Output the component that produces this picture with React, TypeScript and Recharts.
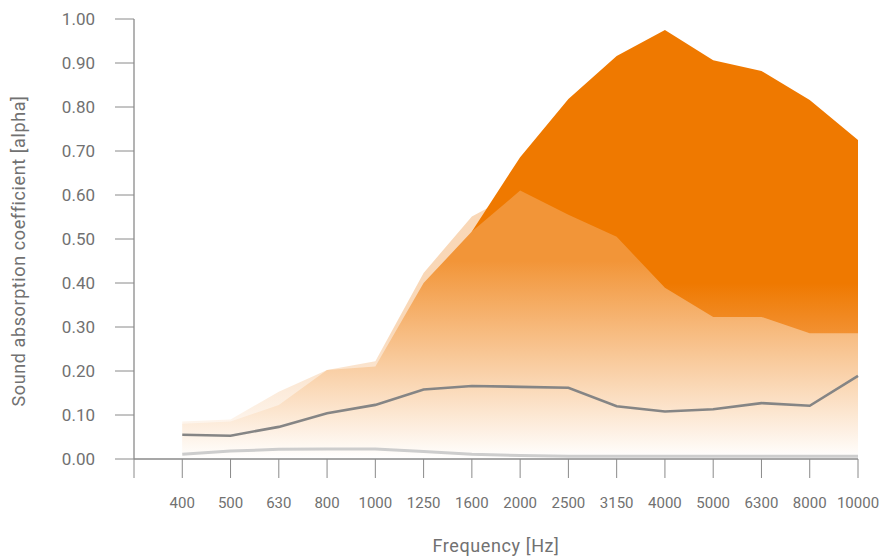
import React from 'react';
import { ComposedChart, Area, Line, XAxis, YAxis, Label } from 'recharts';

// frequency bands (Hz)
const frequencies = ['400', '500', '630', '800', '1000', '1250', '1600', '2000', '2500', '3150', '4000', '5000', '6300', '8000', '10000'];

// absorption coefficients per band
const darkArea = [null, null, null, null, null, null, 0.517, 0.686, 0.818, 0.916, 0.975, 0.906, 0.882, 0.816, 0.725];
const mediumArea = [0.08, 0.085, 0.123, 0.202, 0.21, 0.4, 0.517, 0.61, 0.555, 0.505, 0.389, 0.323, 0.323, 0.286, 0.286];
const lightArea = [0.085, 0.09, 0.153, 0.202, 0.222, 0.423, 0.551, 0.61, 0.55, 0.5, 0.385, 0.32, 0.32, 0.28, 0.28];
const greyLine = [0.055, 0.053, 0.073, 0.104, 0.123, 0.158, 0.166, 0.164, 0.162, 0.12, 0.108, 0.113, 0.127, 0.121, 0.189];
const paleLine = [0.011, 0.018, 0.022, 0.023, 0.023, 0.017, 0.011, 0.008, 0.006, 0.006, 0.006, 0.006, 0.006, 0.006, 0.006];

const yTicks = [0, 0.1, 0.2, 0.3, 0.4, 0.5, 0.6, 0.7, 0.8, 0.9, 1];
const xTicks = [-1, ...frequencies.map((_, i) => i)];

const data = frequencies.map((f, i) => ({
  i,
  freq: f,
  dark: darkArea[i],
  medium: mediumArea[i],
  light: lightArea[i],
  grey: greyLine[i],
  pale: paleLine[i],
}));

const FONT = 'Roboto, "Noto Sans", sans-serif';
const TEXT = '#717171';
const AXIS = '#8a8a8a';

const PLOT_TOP = 19;
const PLOT_BOTTOM = 459;

export default function App() {
  return (
    <div style={{ position: 'absolute', left: 0, top: 0, width: 879, height: 556, background: '#fff' }}>
      <ComposedChart
        width={879}
        height={556}
        data={data}
        margin={{ top: PLOT_TOP, right: 21, left: 0, bottom: 0 }}
      >
        <defs>
          <linearGradient id="gDark" gradientUnits="userSpaceOnUse" x1={0} y1={PLOT_TOP} x2={0} y2={PLOT_BOTTOM}>
            <stop offset={0} stopColor="#EF7900" />
            <stop offset={0.6} stopColor="#EF7900" />
            <stop offset={0.72} stopColor="#F29234" />
            <stop offset={1} stopColor="#FFFFFF" />
          </linearGradient>
          <linearGradient id="gMedium" gradientUnits="userSpaceOnUse" x1={0} y1={PLOT_TOP} x2={0} y2={PLOT_BOTTOM}>
            <stop offset={0} stopColor="#F29538" />
            <stop offset={0.55} stopColor="#F29538" />
            <stop offset={1} stopColor="#FFFFFF" />
          </linearGradient>
          <linearGradient id="gLight" gradientUnits="userSpaceOnUse" x1={0} y1={PLOT_TOP} x2={0} y2={PLOT_BOTTOM}>
            <stop offset={0} stopColor="#F9D6B5" />
            <stop offset={0.7} stopColor="#F9D8B8" />
            <stop offset={1} stopColor="#FFFFFF" />
          </linearGradient>
        </defs>

        <XAxis
          dataKey="i"
          type="number"
          domain={[-1, 14]}
          ticks={xTicks}
          interval={0}
          tickFormatter={(v: number) => (v >= 0 ? frequencies[v] : '')}
          height={97}
          tickSize={19}
          tickMargin={19}
          stroke={AXIS}
          tick={{ fill: TEXT, fontSize: 15, fontFamily: FONT }}
          tickLine={{ stroke: AXIS }}
          axisLine={{ stroke: AXIS, strokeWidth: 1.3 }}
        >
          <Label
            value="Frequency [Hz]"
            position="insideBottom"
            offset={4}
            style={{ fill: TEXT, fontSize: 18, fontFamily: FONT, letterSpacing: 0.6 }}
          />
        </XAxis>
        <YAxis
          type="number"
          domain={[0, 1]}
          ticks={yTicks}
          interval={0}
          tickFormatter={(v: number) => v.toFixed(2)}
          width={134}
          tickSize={19}
          tickMargin={20}
          stroke={AXIS}
          tick={{ fill: TEXT, fontSize: 17, fontFamily: FONT }}
          tickLine={{ stroke: AXIS }}
          axisLine={{ stroke: AXIS, strokeWidth: 1.3 }}
        >
          <Label
            content={() => (
              <text
                x={18}
                y={251}
                transform="rotate(-90 18 251)"
                textAnchor="middle"
                dominantBaseline="central"
                fill={TEXT}
                fontSize={18}
                letterSpacing={0.6}
                fontFamily={FONT}
              >
                Sound absorption coefficient [alpha]
              </text>
            )}
          />
        </YAxis>

        <Area type="linear" dataKey="light" stroke="none" fill="url(#gLight)" fillOpacity={1} isAnimationActive={false} />
        <Area type="linear" dataKey="dark" stroke="none" fill="url(#gDark)" fillOpacity={1} isAnimationActive={false} />
        <Area type="linear" dataKey="medium" stroke="none" fill="url(#gMedium)" fillOpacity={1} isAnimationActive={false} />
        <Line type="linear" dataKey="pale" stroke="#cdcdcd" strokeWidth={3} dot={false} activeDot={false} isAnimationActive={false} />
        <Line type="linear" dataKey="grey" stroke="#858585" strokeWidth={2.6} dot={false} activeDot={false} isAnimationActive={false} />
      </ComposedChart>
    </div>
  );
}
